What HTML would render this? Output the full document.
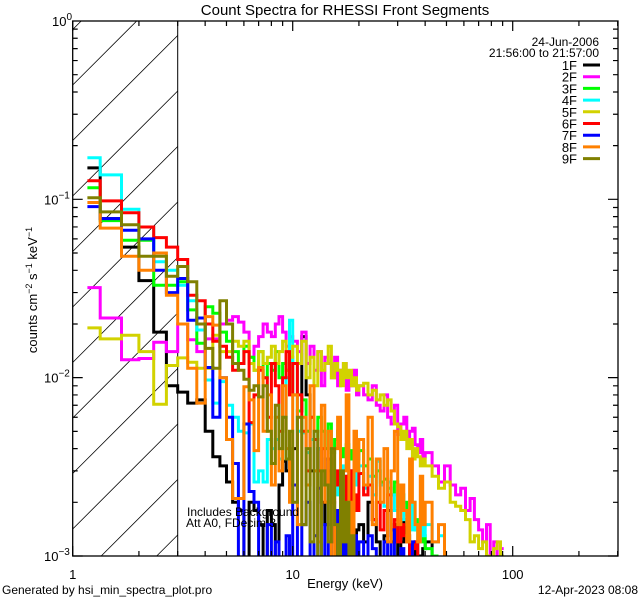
<!DOCTYPE html>
<html><head><meta charset="utf-8"><style>
html,body{margin:0;padding:0;background:#fff;width:640px;height:600px;overflow:hidden;}
svg{display:block;font-family:"Liberation Sans",sans-serif;}
</style></head><body>
<svg id="chart" width="640" height="600" viewBox="0 0 640 600" xmlns="http://www.w3.org/2000/svg">
<rect x="0" y="0" width="640" height="600" fill="#fff"/>
<defs>
<clipPath id="plotclip"><rect x="72.7" y="21" width="545.3" height="535"/></clipPath>
</defs>
<text x="345" y="15" font-size="15" text-anchor="middle">Count Spectra for RHESSI Front Segments</text>
<g id="hatch"></g>
<line x1="177.7" y1="21" x2="177.7" y2="556" stroke="#000" stroke-width="1"/>
<g id="series" clip-path="url(#plotclip)"></g>
<rect x="72.7" y="21" width="545.3" height="535" fill="none" stroke="#000" stroke-width="1.3"/>
<g id="ticks"></g>
<g id="labels" font-size="13"></g>
<text x="345" y="588" font-size="13" text-anchor="middle">Energy (keV)</text>
<text transform="translate(37,290) rotate(-90)" font-size="13" text-anchor="middle">counts cm<tspan dy="-5" font-size="9">−2</tspan><tspan dy="5"> s</tspan><tspan dy="-5" font-size="9">−1</tspan><tspan dy="5"> keV</tspan><tspan dy="-5" font-size="9">−1</tspan></text>
<text x="187" y="516" font-size="12">Includes Background</text>
<text x="186" y="527" font-size="12">Att A0, FDecim 3</text>
<text x="599" y="46" font-size="12" text-anchor="end">24-Jun-2006</text>
<text x="599" y="57" font-size="12" text-anchor="end">21:56:00 to 21:57:00</text>
<g id="legend" font-size="13"></g>
<text x="2" y="594" font-size="12">Generated by hsi_min_spectra_plot.pro</text>
<text x="638" y="594" font-size="12" text-anchor="end">12-Apr-2023 08:08</text>
</svg>
<script>
// Data (counts in units of 1e-3 cm^-2 s^-1 keV^-1), one value per energy bin
const segmentNames = ["1F","2F","3F","4F","5F","6F","7F","8F","9F"];
const segmentColors = ["#000000","#ff00ff","#00ff00","#00ffff","#d2d200","#ff0000","#0000ff","#ff8000","#808000"];
const seg1F = [150,78,54,35,18,9, 8.3,7.2,7.5,5,3.6,3.2,2.6,2,1.8,0.5,2,1.8,1.5,0.5,1.8,1.5,0.5,2.5,3.4,3,2.5, 4,6.5,17,8,3,0.5,4,2,1.5,3,2,1.2,0.5,2.5,1.8,1.2,3,1.5,0.5,1.4, 1.5,1.2,2,1.6,1.2,0.5,1.3,1.8,1.2,1.5,0.5,1.2,1.6,1.3,0.5,0.8,1.2,1.0,0.5,1.1, 1.2,0.5];
const seg2F = [32,21.6,12.6,12.8,15.8,14, 20,16.3,14,16.5,16.5,20,21,22,20.5,18,13,15,17,20,18,17,20,22,18,15,17, 16,14,18,12,15,11,14,9,13,12,10,13,9,11,12,8.5,10,9,11,8, 9,8,7.5,9,7,6.5,8,6,5.5,7,4.8,5.5,6,4.5,5,5.2,4.2,3.8,4.5,3.6, 3.8,3.2,2.6,3.2,2.5,2.2,2.4,1.8,2.1,1.6,1.4,1.2,1.5,1.0,1.2,0.9,1.1];
const seg3F = [116,76,59,59,33,33, 34.5,24,15.6,25,23,18,16,14,12,15,13,11,14,10,12,11,14,10,12,11,13, 8,6.5,7.5,5,6,4.5,6,5,4,5.5,3.8,4.5,5,3.6,4,4.2,3.5,3.9,3,3.5, 3.9,3.2,3.5,2.8,3,2.6,2.7,2.4,2.2,2.6,1.9,2.2,2.0,1.7,1.8,1.5,1.4,1.6,1.2,1.3, 1.1,1.0];
const seg4F = [171,137,88,70,44.7,40, 33,27,18.5,9.7,7.2,9.5,7,6,5,4.9,5.5,2.6,3,2.6,4.5,4,4.5,3.5,6,10,21, 12,5,4.9,3.8,4.5,3,4,2.5,3.5,2.1,3,2.6,2.2,3.2,2.4,2.8,2,2.6,3.5,2.5, 3.2,2.4,2.8,2.2,3.4,2.5,1.9,2.6,2.2,1.8,1.9,2.2,1.6,1.5,1.4,2.0,1.4,1.2,1.6,1.3, 1.5,1.2,1.3,0.5];
const seg5F = [19,16.5,17.3,14,7.1,11.7, 12.9,12.2,11.3,11.3,17.3,14,14,16,15,16,12,11,14,12,13,15,12,14,16,11,13, 15,12,16,10,13,9,14,11,12,15,10,12,11,9,12,10,11,9,10,8.5, 9,9.3,8,8.5,7.5,8,7,7.5,6.5,5.5,5.3,4.5,5,4,4.5,3.5,4,3.6,3.2,3.5, 3.2,2.8,2.4,2.6,2.0,1.9,1.8,1.6,1.2,1.3,1.1,1.2,1.0,0.9,1.1,1.2,1.0];
const seg6F = [127,98,84,70,61,54, 46,29,27,20,16,15,13,11,12,14,5.6,8,11,10,6,12,9,5,10,14,8, 12,8,5,3,6,4.5,3,4,2.5,3.5,2,3,2.5,1.8,2.8,2,3,1.5,2.2,1.8, 2.9,2.2,2.5,1.6,2,1.4,1.8,2.2,1.4,1.6,1.2,1.5,1.3,1.2,0.5,1.1,1.2,0.5];
const seg7F = [91,78,67,60,40,30, 36,21,21.6,11.4,6,10,6,3.3,0.5,5.5,2.3,2,0.5,0.5,1.5,0.5,1.2,0.5,0.5,1.3,0.5, 2.5,0.5,1.5,2,0.5,1.3,2.4,0.5,1.5,0.5,1.2,1.8,0.5,1.2,0.5,1.4,1.1,0.5,1.3,0.5, 1.2,0.5,1.3,1.1,0.5,0.5,1.2,0.5,1.4,0.5,0.5,1.1,0.5,0.5,0.5,1.2];
const seg8F = [96,69,48,40,50,29, 20,11.3,7.2,22,19.7,10,4.5,2.1,2.1,8.9,7.5,3.9,11.4,5,8,2.5,6,3,9,4,2, 8,1.5,6,2.5,9,3,1.2,7,2,5,0.5,4,6,1.5,3,8,2,1.2,5,3, 4.5,2.5,6,1.5,3.5,2,4,1.2,3,5,1.5,2.5,1.8,1.2,3.5,2,1.5,1.2,2.8,1.5, 2,1.2,1.5,0.5];
const seg9F = [102,85,72,48,48,37, 42,34.5,20,14.6,11.3,27,20,12,11,9.8,8.5,9,7.8,9,5,3.3,7,4,6,3.5,5, 2,6,1.5,4,1.2,5,0.5,3,2.5,1.2,4,1.5,0.5,3,1.2,2,0.5,1.3,0.5];
const seriesValues = [seg1F,seg2F,seg3F,seg4F,seg5F,seg6F,seg7F,seg8F,seg9F];
const xTickLabels = ["1","10","100"];
const yTickExponents = ["0","−1","−2","−3"];

// Energy bin edges (keV)
const edges = [7/6];
for (let k = 4; k <= 30; k++) edges.push(k/3);
for (let k = 1; k <= 20; k++) edges.push(10 + k*0.5);
for (let k = 1; k <= 20; k++) edges.push(20 + k);
for (let k = 1; k <= 20; k++) edges.push(40 + k*3);

const NS = "http://www.w3.org/2000/svg";
const X0 = 72.7, XDEC = 220, Y0 = 21, YDEC = 178.33, XR = 618, YB = 556, XH = 177.7;
function xScale(e){ return X0 + XDEC*Math.log10(e); }
function yScale(v){ return Math.min(YB+4, Y0 - YDEC*Math.log10(v*1e-3)); }
function mk(tag, attrs, parent){ const el=document.createElementNS(NS,tag); for(const k in attrs) el.setAttribute(k,attrs[k]); parent.appendChild(el); return el; }

// hatching (clipped manually to the hatched rectangle)
const hatch = document.getElementById('hatch');
for (let k = -2; k <= 11; k++) {
  const c = 85 + 55.5*k;
  let x1 = X0, y1 = c;
  if (y1 > YB) { x1 = X0 + (y1 - YB); y1 = YB; }
  let x2 = XH, y2 = c - (XH - X0);
  if (y2 < Y0) { x2 = X0 + (c - Y0); y2 = Y0; }
  if (x1 >= XH || x2 <= X0 || x2 <= x1) continue;
  const ln = mk('line',{x1:x1,y1:y1,x2:x2,y2:y2,stroke:'#000','stroke-width':0.8},hatch);
  
  
}

// series
const sg = document.getElementById('series');
seriesValues.forEach((vals, si) => {
  let d = '';
  for (let i = 0; i < vals.length; i++) {
    const y = yScale(vals[i]);
    const xa = xScale(edges[i]), xb = xScale(edges[i+1]);
    d += (i === 0 ? 'M' : 'L') + xa.toFixed(1) + ',' + y.toFixed(1) + 'L' + xb.toFixed(1) + ',' + y.toFixed(1);
  }
  const p = mk('path',{d:d,fill:'none',stroke:segmentColors[si],'stroke-width':3,'stroke-linejoin':'miter'},sg);
  
  
});

// ticks
const tg = document.getElementById('ticks');
let td = '';
for (let dec = 0; dec <= 2; dec++) {
  for (let m = 1; m <= 9; m++) {
    const e = m*Math.pow(10,dec); const x = xScale(e);
    if (x > XR) continue;
    const L = m === 1 ? 10 : 5;
    td += `M${x},${YB}v${-L}M${x},${Y0}v${L}`;
  }
}
for (let dec = 0; dec <= 2; dec++) {
  for (let m = 1; m <= 9; m++) {
    const yy = Y0 + YDEC*(dec+1) - YDEC*Math.log10(m);
    const L = m === 1 ? 10 : 5;
    td += `M${X0},${yy}h${L}M${XR},${yy}h${-L}`;
  }
}
const tp = mk('path',{d:td,stroke:'#000','stroke-width':1.2,fill:'none'},tg);



// labels
const lg = document.getElementById('labels');
xTickLabels.forEach((t,i) => {
  const el = mk('text',{x:xScale(Math.pow(10,i)),y:579,'text-anchor':'middle'},lg);
  el.textContent = t;
  
  
});
yTickExponents.forEach((t,i) => {
  const y = Y0 + YDEC*i;
  const el = mk('text',{x:44,y:y+5},lg);
  
  
  el.innerHTML = '10<tspan dy="-6" font-size="10">' + t + '</tspan>';
  el.setAttribute('x', i === 0 ? 52 : 44);
});

// legend
const leg = document.getElementById('legend');
segmentNames.forEach((n,i) => {
  const y = 65 + i*11.7;
  const t = mk('text',{x:577,y:y+5,'text-anchor':'end'},leg);
  t.textContent = n;
  
  
  const l = mk('line',{x1:583,y1:y,x2:600,y2:y,stroke:segmentColors[i],'stroke-width':3},leg);
  
  
});
</script>
</body></html>
